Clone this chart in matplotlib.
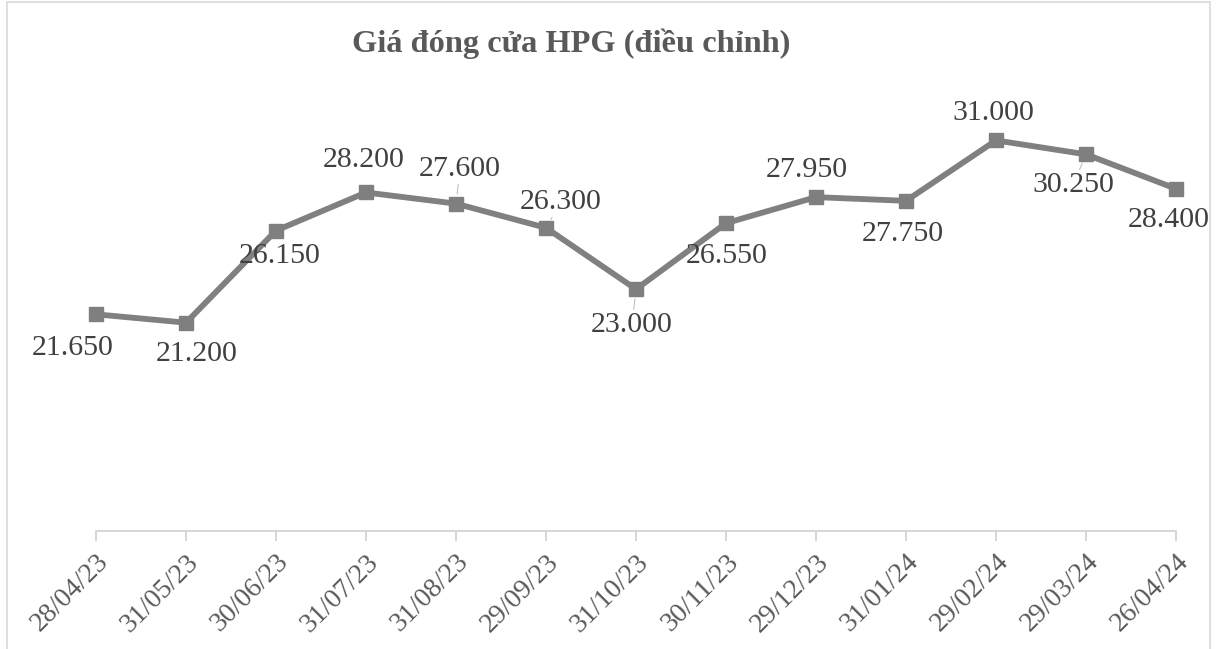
import matplotlib
matplotlib.use("Agg")
import matplotlib.pyplot as plt
from matplotlib.patches import Rectangle

dates = ["28/04/23", "31/05/23", "30/06/23", "31/07/23", "31/08/23", "29/09/23",
         "31/10/23", "30/11/23", "29/12/23", "31/01/24", "29/02/24", "29/03/24", "26/04/24"]
prices = [21650, 21200, 26150, 28200, 27600, 26300, 23000, 26550, 27950, 27750, 31000, 30250, 28400]
labels = ["21.650", "21.200", "26.150", "28.200", "27.600", "26.300", "23.000",
          "26.550", "27.950", "27.750", "31.000", "30.250", "28.400"]
title = "Giá đóng cửa HPG (điều chỉnh)"

# label offsets in pixels (dx right, dy down) and leader flag
offsets = [(-23, 34), (11, 31), (4, 25), (-2, -32), (4, -35), (15, -26), (-4, 36),
           (1, 33), (-9, -27), (-3, 33), (-3, -27), (-13, 31), (-7, 31)]
leaders = [False, False, False, False, True, True, True, False, False, False, False, True, False]

W, H, DPI = 1217, 649, 100
fig = plt.figure(figsize=(W / DPI, H / DPI), dpi=DPI)
fig.patch.set_facecolor("white")
fig.patches.append(Rectangle((7 / W, -0.01), (1210 - 7) / W, 1.0 - 1.5 / H + 0.01,
                             transform=fig.transFigure, fill=False,
                             edgecolor="#d9d9d9", linewidth=1.2))

ax = fig.add_axes([96 / W, (H - 531) / H, 1080 / W, 465 / H])
ax.set_xlim(0, len(dates) - 1)
ax.set_ylim(10000, 35000)
ax.patch.set_alpha(0)

x = list(range(len(dates)))
ax.plot(x, prices, color="#808080", linewidth=4.2, marker="s", markersize=9.5,
        markerfacecolor="#7f7f7f", markeredgecolor="#7f7f7f", solid_joinstyle="miter",
        zorder=3, clip_on=False)

px2pt = 72 / DPI
for xi, v, lab, (dx, dy), ld in zip(x, prices, labels, offsets, leaders):
    kw = {}
    if ld:
        kw["arrowprops"] = dict(arrowstyle="-", color="#bfbfbf", lw=0.8,
                                shrinkA=0, shrinkB=7)
    ax.annotate(lab, xy=(xi, v), xytext=(dx * px2pt, -dy * px2pt),
                textcoords="offset points", ha="center", va="center",
                fontsize=21.5, family="Liberation Serif", color="#404040",
                zorder=4, **kw)

for s in ["left", "right", "top"]:
    ax.spines[s].set_visible(False)
ax.spines["bottom"].set_color("#d0d0d0")
ax.spines["bottom"].set_linewidth(1.2)
ax.set_yticks([])
ax.set_xticks(x)
ax.set_xticklabels(dates, rotation=45, ha="right", va="top", rotation_mode="anchor",
                   fontsize=20, family="Liberation Serif", color="#595959")
ax.tick_params(axis="x", length=7.2, width=1.2, color="#d0d0d0", pad=6)

fig.text(571 / W, 1 - 44 / H, title, ha="center", va="center", fontsize=23.3,
         fontweight="bold", family="Liberation Serif", color="#595959")

fig.savefig("out.png", dpi=DPI)
